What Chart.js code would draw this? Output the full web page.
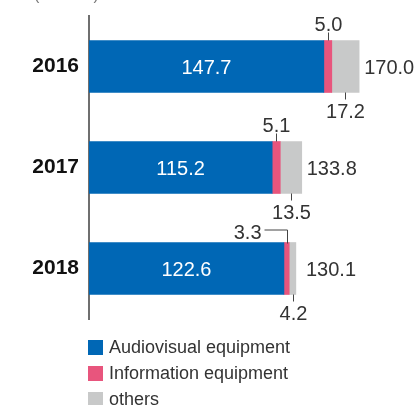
<!DOCTYPE html>
<html>
<head>
<meta charset="utf-8">
<script src="https://cdn.jsdelivr.net/npm/chart.js@4.4.0/dist/chart.umd.min.js"></script>
<style>
  html, body { margin: 0; padding: 0; background: #fff; }
  #wrap { position: relative; width: 416px; height: 405px; overflow: hidden; }
</style>
</head>
<body>
<div id="wrap"><canvas id="salesChart" width="416" height="405"></canvas></div>
<script>
// Sales by category, billions of yen
const years = ['2016', '2017', '2018'];
const audiovisual = [147.7, 115.2, 122.6];
const information = [5.0, 5.1, 3.3];
const others = [17.2, 13.5, 4.2];
const totals = [170.0, 133.8, 130.1];
const seriesNames = ['Audiovisual equipment', 'Information equipment', 'others'];
const unitLabel = '(¥ billion)';

const colors = ['#0067b5', '#e8557d', '#c8c9c9'];
const FONT = '"Liberation Sans", Arial, Helvetica, sans-serif';

// value labels, leader ticks and the legend
const labelPlugin = {
    id: 'labels',
    afterDatasetsDraw(chart) {
        const ctx = chart.ctx;
        const blue = chart.getDatasetMeta(0).data;
        const pink = chart.getDatasetMeta(1).data;
        const gray = chart.getDatasetMeta(2).data;
        ctx.save();
        ctx.font = '20px ' + FONT;
        ctx.textBaseline = 'alphabetic';

        years.forEach((y, i) => {
            const b = blue[i].getProps(['x', 'y', 'base', 'height'], true);
            const p = pink[i].getProps(['x', 'y', 'base', 'height'], true);
            const g = gray[i].getProps(['x', 'y', 'base', 'height'], true);
            const top = b.y - b.height / 2;
            const bottom = b.y + b.height / 2;

            // audiovisual value inside the bar
            ctx.fillStyle = '#fff';
            ctx.textAlign = 'center';
            ctx.fillText(audiovisual[i].toFixed(1), (b.base + b.x) / 2, b.y + 7);

            // total to the right
            ctx.fillStyle = '#333';
            ctx.textAlign = 'left';
            ctx.fillText(totals[i].toFixed(1), Math.max(g.x + 5, 306), b.y + 7);

            ctx.strokeStyle = '#444';
            ctx.lineWidth = 1;

            // information equipment above
            const pc = Math.round((p.base + p.x) / 2) + 0.5;
            if (i < 2) {
                ctx.beginPath();
                ctx.moveTo(pc, top - 8);
                ctx.lineTo(pc, top);
                ctx.stroke();
                ctx.textAlign = 'center';
                ctx.fillText(information[i].toFixed(1), pc, top - 10);
            } else {
                const ly = top - 12.5;
                ctx.beginPath();
                ctx.moveTo(pc - 23, ly);
                ctx.lineTo(pc, ly);
                ctx.lineTo(pc, top + 1);
                ctx.stroke();
                ctx.textAlign = 'right';
                ctx.fillText(information[i].toFixed(1), pc - 26, top - 4);
            }

            // others below
            const gc = Math.round((g.base + g.x) / 2) + 0.5;
            ctx.beginPath();
            ctx.moveTo(gc, bottom);
            ctx.lineTo(gc, bottom + 7);
            ctx.stroke();
            ctx.textAlign = 'center';
            ctx.fillText(others[i].toFixed(1), gc, bottom + 25);
        });

        // unit caption, mostly above the top edge
        ctx.fillStyle = '#777';
        ctx.textAlign = 'left';
        ctx.font = '16px ' + FONT;
        ctx.fillText(unitLabel, 34, 0);

        // legend
        ctx.font = '18px ' + FONT;
        ctx.textBaseline = 'middle';
        seriesNames.forEach((name, k) => {
            const ly = 340 + k * 26;
            ctx.fillStyle = colors[k];
            ctx.fillRect(88, ly, 15, 15);
            ctx.fillStyle = '#333';
            ctx.fillText(name, 109, ly + 8);
        });
        ctx.restore();
    }
};

const ctx = document.getElementById('salesChart').getContext('2d');
const salesChart = new Chart(ctx, {
    type: 'bar',
    data: {
        labels: years,
        datasets: [
            { label: seriesNames[0], data: audiovisual, backgroundColor: colors[0] },
            { label: seriesNames[1], data: information, backgroundColor: colors[1] },
            { label: seriesNames[2], data: others, backgroundColor: colors[2] }
        ]
    },
    options: {
        indexAxis: 'y',
        responsive: false,
        animation: false,
        devicePixelRatio: 1,
        layout: { padding: { top: 16, right: 9, bottom: 86, left: 0 } },
        datasets: { bar: { barThickness: 52, borderWidth: 0 } },
        scales: {
            x: { stacked: true, min: 0, max: 200, display: false },
            y: {
                stacked: true,
                grid: { display: false },
                border: { display: true, color: '#6f6f6f', width: 2 },
                ticks: {
                    color: '#111',
                    padding: 2,
                    font: { family: FONT, size: 21, weight: 'bold' }
                },
                afterFit(scale) {
                    scale.width = 89;
                    scale.paddingTop = 0;
                    scale.paddingBottom = 0;
                }
            }
        },
        plugins: {
            legend: { display: false },
            tooltip: { enabled: false }
        }
    },
    plugins: [labelPlugin]
});
</script>
</body>
</html>
